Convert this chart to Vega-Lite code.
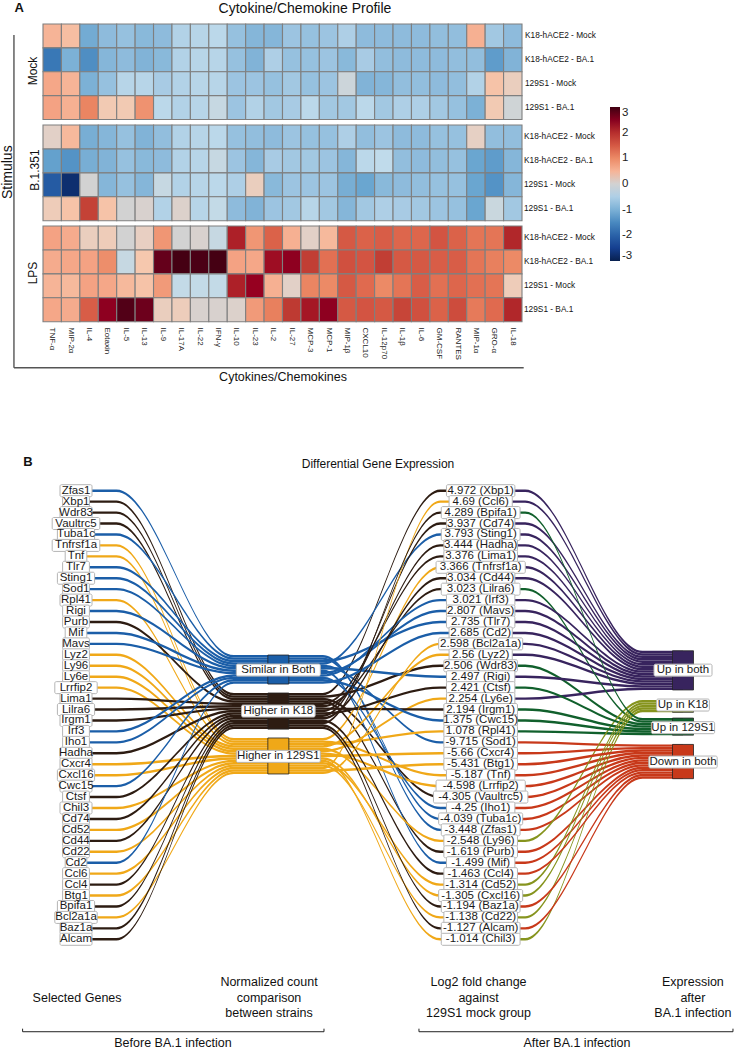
{"$schema":"https://vega.github.io/schema/vega-lite/v6.json","width":734,"height":1050,"padding":0,"autosize":{"type":"fit","contains":"padding"},"background":"white","config":{"view":{"stroke":null},"font":"Liberation Sans","axis":{"grid":false,"domain":false,"ticks":false,"title":null}},
"datasets":{
"heat":[
{"stimulus":"Mock","sample":"K18-hACE2 - Mock","cytokine":["TNF-α","MIP-2α","IL-4","Eotaxin","IL-5","IL-13","IL-9","IL-17A","IL-22","IFN-γ","IL-10","IL-23","IL-2","IL-27","MCP-3","MCP-1","MIP-1β","CXCL10","IL-12p70","IL-1β","IL-6","GM-CSF","RANTES","MIP-1α","GRO-α","IL-18"],"value":[0.5,0.4,-1.1,-0.8,-0.7,-0.85,-0.8,-0.45,-0.4,-0.35,-0.7,-0.9,-0.9,-0.65,-0.7,-0.65,-0.5,-0.8,-0.8,-0.8,-0.8,-0.75,-0.75,0.55,-0.6,-0.8]},
{"stimulus":"Mock","sample":"K18-hACE2 - BA.1","cytokine":["TNF-α","MIP-2α","IL-4","Eotaxin","IL-5","IL-13","IL-9","IL-17A","IL-22","IFN-γ","IL-10","IL-23","IL-2","IL-27","MCP-3","MCP-1","MIP-1β","CXCL10","IL-12p70","IL-1β","IL-6","GM-CSF","RANTES","MIP-1α","GRO-α","IL-18"],"value":[-1.7,-1.0,-1.45,-0.9,-0.8,-0.95,-0.85,-0.45,-0.4,-0.4,-0.7,-0.95,-0.5,-0.7,-0.7,-0.65,-0.85,-0.55,-0.75,-0.8,-0.8,-0.8,-0.75,-0.75,-1.3,-0.95]},
{"stimulus":"Mock","sample":"129S1 - Mock","cytokine":["TNF-α","MIP-2α","IL-4","Eotaxin","IL-5","IL-13","IL-9","IL-17A","IL-22","IFN-γ","IL-10","IL-23","IL-2","IL-27","MCP-3","MCP-1","MIP-1β","CXCL10","IL-12p70","IL-1β","IL-6","GM-CSF","RANTES","MIP-1α","GRO-α","IL-18"],"value":[0.65,0.5,-1.0,-0.7,-0.4,-0.4,-0.55,-0.45,-0.4,-0.4,-0.65,-0.65,-0.7,-0.6,-0.7,-0.65,-0.1,-0.95,-0.9,-0.75,-0.75,-0.8,-0.75,-0.45,0.35,0.15]},
{"stimulus":"Mock","sample":"129S1 - BA.1","cytokine":["TNF-α","MIP-2α","IL-4","Eotaxin","IL-5","IL-13","IL-9","IL-17A","IL-22","IFN-γ","IL-10","IL-23","IL-2","IL-27","MCP-3","MCP-1","MIP-1β","CXCL10","IL-12p70","IL-1β","IL-6","GM-CSF","RANTES","MIP-1α","GRO-α","IL-18"],"value":[0.7,0.55,1.05,0.25,0.25,0.9,-0.35,-0.45,-0.4,-0.2,-0.65,-0.45,-0.6,-0.55,-0.35,-0.6,-0.6,-0.35,-0.6,-0.5,-0.5,-0.6,-0.7,-1.0,0.25,-0.05]},
{"stimulus":"B.1.351","sample":"K18-hACE2 - Mock","cytokine":["TNF-α","MIP-2α","IL-4","Eotaxin","IL-5","IL-13","IL-9","IL-17A","IL-22","IFN-γ","IL-10","IL-23","IL-2","IL-27","MCP-3","MCP-1","MIP-1β","CXCL10","IL-12p70","IL-1β","IL-6","GM-CSF","RANTES","MIP-1α","GRO-α","IL-18"],"value":[0.08,0.45,-1.05,-0.9,-0.7,-0.95,-0.75,-0.45,-0.4,-0.35,-0.7,-0.75,-0.8,-0.65,-0.7,-0.7,-0.5,-0.75,-0.65,-0.8,-0.8,-0.7,-0.7,0.1,-0.75,-0.75]},
{"stimulus":"B.1.351","sample":"K18-hACE2 - BA.1","cytokine":["TNF-α","MIP-2α","IL-4","Eotaxin","IL-5","IL-13","IL-9","IL-17A","IL-22","IFN-γ","IL-10","IL-23","IL-2","IL-27","MCP-3","MCP-1","MIP-1β","CXCL10","IL-12p70","IL-1β","IL-6","GM-CSF","RANTES","MIP-1α","GRO-α","IL-18"],"value":[-1.25,-1.4,-1.05,-0.95,-0.7,-0.85,-0.8,-0.45,-0.4,-0.2,-0.65,-0.9,-0.55,-0.6,-0.6,-0.65,-0.9,-0.35,-0.3,-0.75,-0.8,-0.75,-0.7,-1.2,-1.3,-0.9]},
{"stimulus":"B.1.351","sample":"129S1 - Mock","cytokine":["TNF-α","MIP-2α","IL-4","Eotaxin","IL-5","IL-13","IL-9","IL-17A","IL-22","IFN-γ","IL-10","IL-23","IL-2","IL-27","MCP-3","MCP-1","MIP-1β","CXCL10","IL-12p70","IL-1β","IL-6","GM-CSF","RANTES","MIP-1α","GRO-α","IL-18"],"value":[-2.1,-2.75,0,-0.9,-0.7,-0.9,-0.2,-0.45,-0.4,-0.35,-0.5,0.15,-0.85,-0.65,-0.65,-0.65,-1.05,-1.2,-0.85,-0.8,-0.75,-0.7,-0.7,-1.2,-1.4,-0.9]},
{"stimulus":"B.1.351","sample":"129S1 - BA.1","cytokine":["TNF-α","MIP-2α","IL-4","Eotaxin","IL-5","IL-13","IL-9","IL-17A","IL-22","IFN-γ","IL-10","IL-23","IL-2","IL-27","MCP-3","MCP-1","MIP-1β","CXCL10","IL-12p70","IL-1β","IL-6","GM-CSF","RANTES","MIP-1α","GRO-α","IL-18"],"value":[0.2,0.35,1.8,0.35,0,0.03,-0.45,0.05,-0.4,-0.25,-0.8,-0.95,-0.65,-0.6,-0.4,-0.6,-0.9,-0.6,-0.5,-0.55,-0.6,-0.65,-0.7,-1.2,-0.15,-0.6]},
{"stimulus":"LPS","sample":"K18-hACE2 - Mock","cytokine":["TNF-α","MIP-2α","IL-4","Eotaxin","IL-5","IL-13","IL-9","IL-17A","IL-22","IFN-γ","IL-10","IL-23","IL-2","IL-27","MCP-3","MCP-1","MIP-1β","CXCL10","IL-12p70","IL-1β","IL-6","GM-CSF","RANTES","MIP-1α","GRO-α","IL-18"],"value":[0.7,0.6,0.15,0.2,0,0.12,0.85,0,0.03,-0.2,2.1,0.85,1.4,0.55,0.08,0.45,1.5,1.4,1.45,1.35,1.35,1.55,1.4,1.2,1.2,2.05]},
{"stimulus":"LPS","sample":"K18-hACE2 - BA.1","cytokine":["TNF-α","MIP-2α","IL-4","Eotaxin","IL-5","IL-13","IL-9","IL-17A","IL-22","IFN-γ","IL-10","IL-23","IL-2","IL-27","MCP-3","MCP-1","MIP-1β","CXCL10","IL-12p70","IL-1β","IL-6","GM-CSF","RANTES","MIP-1α","GRO-α","IL-18"],"value":[0.6,0.65,0.7,0.95,-0.2,0.3,2.7,2.95,2.9,2.95,0.7,0.65,2.3,2.45,1.85,1.25,1.6,1.55,1.85,1.5,1.5,1.45,1.45,1.2,1.1,1.0]},
{"stimulus":"LPS","sample":"129S1 - Mock","cytokine":["TNF-α","MIP-2α","IL-4","Eotaxin","IL-5","IL-13","IL-9","IL-17A","IL-22","IFN-γ","IL-10","IL-23","IL-2","IL-27","MCP-3","MCP-1","MIP-1β","CXCL10","IL-12p70","IL-1β","IL-6","GM-CSF","RANTES","MIP-1α","GRO-α","IL-18"],"value":[0.5,0.45,0.7,0.65,0.45,0.35,0.8,-0.25,-0.25,-0.25,2.1,2.4,0.55,0.08,1.05,1.0,1.5,1.3,1.0,1.2,1.45,1.25,1.35,1.25,1.2,0.2]},
{"stimulus":"LPS","sample":"129S1 - BA.1","cytokine":["TNF-α","MIP-2α","IL-4","Eotaxin","IL-5","IL-13","IL-9","IL-17A","IL-22","IFN-γ","IL-10","IL-23","IL-2","IL-27","MCP-3","MCP-1","MIP-1β","CXCL10","IL-12p70","IL-1β","IL-6","GM-CSF","RANTES","MIP-1α","GRO-α","IL-18"],"value":[0.65,0.6,1.45,2.45,2.85,2.65,0.15,0.18,0.03,0.03,0.05,0.8,1.1,1.9,2.2,2.45,1.5,1.55,1.5,1.75,1.6,1.4,1.65,1.15,1.3,2.05]}
],
"flows":[
{"id":"Zfas1A","flow":"Similar in Both","axis":[1,1.2,1.78,2.22,2.8,3],"rank":[1,1,16.13,16.13,32,32]},
{"id":"Xbp1A","flow":"Higher in K18","axis":[1,1.2,1.78,2.22,2.8,3],"rank":[2,2,19.6,19.6,1,1]},
{"id":"Wdr83A","flow":"Higher in K18","axis":[1,1.2,1.78,2.22,2.8,3],"rank":[3,3,19.82,19.82,17,17]},
{"id":"Vaultrc5A","flow":"Higher in K18","axis":[1,1.2,1.78,2.22,2.8,3],"rank":[4,4,20.04,20.04,29,29]},
{"id":"Tuba1cA","flow":"Similar in Both","axis":[1,1.2,1.78,2.22,2.8,3],"rank":[5,5,16.35,16.35,31,31]},
{"id":"Tnfrsf1aA","flow":"Higher in 129S1","axis":[1,1.2,1.78,2.22,2.8,3],"rank":[6,6,23.71,23.71,8,8]},
{"id":"TnfA","flow":"Higher in 129S1","axis":[1,1.2,1.78,2.22,2.8,3],"rank":[7,7,23.93,23.93,27,27]},
{"id":"Tlr7A","flow":"Similar in Both","axis":[1,1.2,1.78,2.22,2.8,3],"rank":[8,8,16.57,16.57,13,13]},
{"id":"Sting1A","flow":"Similar in Both","axis":[1,1.2,1.78,2.22,2.8,3],"rank":[9,9,16.79,16.79,5,5]},
{"id":"Sod1A","flow":"Similar in Both","axis":[1,1.2,1.78,2.22,2.8,3],"rank":[10,10,17.01,17.01,24,24]},
{"id":"Rpl41A","flow":"Higher in 129S1","axis":[1,1.2,1.78,2.22,2.8,3],"rank":[11,11,24.15,24.15,23,23]},
{"id":"RigiA","flow":"Similar in Both","axis":[1,1.2,1.78,2.22,2.8,3],"rank":[12,12,17.23,17.23,18,18]},
{"id":"PurbA","flow":"Higher in K18","axis":[1,1.2,1.78,2.22,2.8,3],"rank":[13,13,20.26,20.26,34,34]},
{"id":"MifA","flow":"Similar in Both","axis":[1,1.2,1.78,2.22,2.8,3],"rank":[14,14,17.45,17.45,35,35]},
{"id":"MavsA","flow":"Similar in Both","axis":[1,1.2,1.78,2.22,2.8,3],"rank":[15,15,17.67,17.67,12,12]},
{"id":"Lyz2A","flow":"Higher in 129S1","axis":[1,1.2,1.78,2.22,2.8,3],"rank":[16,16,24.37,24.37,16,16]},
{"id":"Ly96A","flow":"Higher in 129S1","axis":[1,1.2,1.78,2.22,2.8,3],"rank":[17,17,24.59,24.59,33,33]},
{"id":"Ly6eA","flow":"Higher in 129S1","axis":[1,1.2,1.78,2.22,2.8,3],"rank":[18,18,24.81,24.81,20,20]},
{"id":"Lrrfip2A","flow":"Higher in 129S1","axis":[1,1.2,1.78,2.22,2.8,3],"rank":[19,19,25.03,25.03,28,28]},
{"id":"Lima1A","flow":"Higher in K18","axis":[1,1.2,1.78,2.22,2.8,3],"rank":[20,20,20.48,20.48,7,7]},
{"id":"Lilra6A","flow":"Higher in K18","axis":[1,1.2,1.78,2.22,2.8,3],"rank":[21,21,20.7,20.7,10,10]},
{"id":"Irgm1A","flow":"Higher in K18","axis":[1,1.2,1.78,2.22,2.8,3],"rank":[22,22,20.92,20.92,21,21]},
{"id":"Irf3A","flow":"Similar in Both","axis":[1,1.2,1.78,2.22,2.8,3],"rank":[23,23,17.89,17.89,11,11]},
{"id":"Iho1A","flow":"Similar in Both","axis":[1,1.2,1.78,2.22,2.8,3],"rank":[24,24,18.11,18.11,30,30]},
{"id":"HadhaA","flow":"Higher in K18","axis":[1,1.2,1.78,2.22,2.8,3],"rank":[25,25,21.14,21.14,6,6]},
{"id":"Cxcr4A","flow":"Higher in 129S1","axis":[1,1.2,1.78,2.22,2.8,3],"rank":[26,26,25.25,25.25,25,25]},
{"id":"Cxcl16A","flow":"Higher in 129S1","axis":[1,1.2,1.78,2.22,2.8,3],"rank":[27,27,25.47,25.47,38,38]},
{"id":"Cwc15A","flow":"Similar in Both","axis":[1,1.2,1.78,2.22,2.8,3],"rank":[28,28,18.32,18.32,22,22]},
{"id":"CtsfA","flow":"Higher in K18","axis":[1,1.2,1.78,2.22,2.8,3],"rank":[29,29,21.36,21.36,19,19]},
{"id":"Chil3A","flow":"Higher in 129S1","axis":[1,1.2,1.78,2.22,2.8,3],"rank":[30,30,25.69,25.69,42,42]},
{"id":"Cd74A","flow":"Higher in K18","axis":[1,1.2,1.78,2.22,2.8,3],"rank":[31,31,21.58,21.58,4,4]},
{"id":"Cd52A","flow":"Higher in 129S1","axis":[1,1.2,1.78,2.22,2.8,3],"rank":[32,32,25.91,25.91,37,37]},
{"id":"Cd44A","flow":"Higher in K18","axis":[1,1.2,1.78,2.22,2.8,3],"rank":[33,33,21.8,21.8,9,9]},
{"id":"Cd22A","flow":"Higher in 129S1","axis":[1,1.2,1.78,2.22,2.8,3],"rank":[34,34,26.13,26.13,40,40]},
{"id":"Cd2A","flow":"Similar in Both","axis":[1,1.2,1.78,2.22,2.8,3],"rank":[35,35,18.54,18.54,14,14]},
{"id":"Ccl6A","flow":"Higher in 129S1","axis":[1,1.2,1.78,2.22,2.8,3],"rank":[36,36,26.35,26.35,2,2]},
{"id":"Ccl4A","flow":"Higher in K18","axis":[1,1.2,1.78,2.22,2.8,3],"rank":[37,37,22.02,22.02,36,36]},
{"id":"Btg1A","flow":"Higher in 129S1","axis":[1,1.2,1.78,2.22,2.8,3],"rank":[38,38,26.57,26.57,26,26]},
{"id":"Bpifa1A","flow":"Higher in K18","axis":[1,1.2,1.78,2.22,2.8,3],"rank":[39,39,22.24,22.24,3,3]},
{"id":"Bcl2a1aA","flow":"Higher in 129S1","axis":[1,1.2,1.78,2.22,2.8,3],"rank":[40,40,26.79,26.79,15,15]},
{"id":"Baz1aA","flow":"Higher in K18","axis":[1,1.2,1.78,2.22,2.8,3],"rank":[41,41,22.46,22.46,39,39]},
{"id":"AlcamA","flow":"Higher in K18","axis":[1,1.2,1.78,2.22,2.8,3],"rank":[42,42,22.68,22.68,41,41]},
{"id":"Zfas1B","flow":"Down in both","axis":[3,3.22,3.8,4],"rank":[32,32,26.1,26.1]},
{"id":"Xbp1B","flow":"Up in both","axis":[3,3.22,3.8,4],"rank":[1,1,15.74,15.74]},
{"id":"Wdr83B","flow":"Up in 129S1","axis":[3,3.22,3.8,4],"rank":[17,17,22.34,22.34]},
{"id":"Vaultrc5B","flow":"Down in both","axis":[3,3.22,3.8,4],"rank":[29,29,25.42,25.42]},
{"id":"Tuba1cB","flow":"Down in both","axis":[3,3.22,3.8,4],"rank":[31,31,25.87,25.87]},
{"id":"Tnfrsf1aB","flow":"Up in both","axis":[3,3.22,3.8,4],"rank":[8,8,17.09,17.09]},
{"id":"TnfB","flow":"Down in both","axis":[3,3.22,3.8,4],"rank":[27,27,24.97,24.97]},
{"id":"Tlr7B","flow":"Up in both","axis":[3,3.22,3.8,4],"rank":[13,13,17.98,17.98]},
{"id":"Sting1B","flow":"Up in both","axis":[3,3.22,3.8,4],"rank":[5,5,16.41,16.41]},
{"id":"Sod1B","flow":"Down in both","axis":[3,3.22,3.8,4],"rank":[24,24,24.3,24.3]},
{"id":"Rpl41B","flow":"Up in 129S1","axis":[3,3.22,3.8,4],"rank":[23,23,23.23,23.23]},
{"id":"RigiB","flow":"Up in both","axis":[3,3.22,3.8,4],"rank":[18,18,18.88,18.88]},
{"id":"PurbB","flow":"Down in both","axis":[3,3.22,3.8,4],"rank":[34,34,26.32,26.32]},
{"id":"MifB","flow":"Down in both","axis":[3,3.22,3.8,4],"rank":[35,35,26.54,26.54]},
{"id":"MavsB","flow":"Up in both","axis":[3,3.22,3.8,4],"rank":[12,12,17.76,17.76]},
{"id":"Lyz2B","flow":"Up in both","axis":[3,3.22,3.8,4],"rank":[16,16,18.65,18.65]},
{"id":"Ly96B","flow":"Up in K18","axis":[3,3.22,3.8,4],"rank":[33,33,20.24,20.24]},
{"id":"Ly6eB","flow":"Up in both","axis":[3,3.22,3.8,4],"rank":[20,20,19.1,19.1]},
{"id":"Lrrfip2B","flow":"Down in both","axis":[3,3.22,3.8,4],"rank":[28,28,25.2,25.2]},
{"id":"Lima1B","flow":"Up in both","axis":[3,3.22,3.8,4],"rank":[7,7,16.86,16.86]},
{"id":"Lilra6B","flow":"Up in 129S1","axis":[3,3.22,3.8,4],"rank":[10,10,22.11,22.11]},
{"id":"Irgm1B","flow":"Up in 129S1","axis":[3,3.22,3.8,4],"rank":[21,21,22.79,22.79]},
{"id":"Irf3B","flow":"Up in both","axis":[3,3.22,3.8,4],"rank":[11,11,17.53,17.53]},
{"id":"Iho1B","flow":"Down in both","axis":[3,3.22,3.8,4],"rank":[30,30,25.65,25.65]},
{"id":"HadhaB","flow":"Up in both","axis":[3,3.22,3.8,4],"rank":[6,6,16.64,16.64]},
{"id":"Cxcr4B","flow":"Down in both","axis":[3,3.22,3.8,4],"rank":[25,25,24.53,24.53]},
{"id":"Cxcl16B","flow":"Up in K18","axis":[3,3.22,3.8,4],"rank":[38,38,20.69,20.69]},
{"id":"Cwc15B","flow":"Up in 129S1","axis":[3,3.22,3.8,4],"rank":[22,22,23.01,23.01]},
{"id":"CtsfB","flow":"Up in 129S1","axis":[3,3.22,3.8,4],"rank":[19,19,22.56,22.56]},
{"id":"Chil3B","flow":"Up in K18","axis":[3,3.22,3.8,4],"rank":[42,42,21.14,21.14]},
{"id":"Cd74B","flow":"Up in both","axis":[3,3.22,3.8,4],"rank":[4,4,16.19,16.19]},
{"id":"Cd52B","flow":"Up in K18","axis":[3,3.22,3.8,4],"rank":[37,37,20.46,20.46]},
{"id":"Cd44B","flow":"Up in both","axis":[3,3.22,3.8,4],"rank":[9,9,17.31,17.31]},
{"id":"Cd22B","flow":"Up in K18","axis":[3,3.22,3.8,4],"rank":[40,40,20.91,20.91]},
{"id":"Cd2B","flow":"Up in both","axis":[3,3.22,3.8,4],"rank":[14,14,18.21,18.21]},
{"id":"Ccl6B","flow":"Up in both","axis":[3,3.22,3.8,4],"rank":[2,2,15.97,15.97]},
{"id":"Ccl4B","flow":"Down in both","axis":[3,3.22,3.8,4],"rank":[36,36,26.77,26.77]},
{"id":"Btg1B","flow":"Down in both","axis":[3,3.22,3.8,4],"rank":[26,26,24.75,24.75]},
{"id":"Bpifa1B","flow":"Up in 129S1","axis":[3,3.22,3.8,4],"rank":[3,3,21.89,21.89]},
{"id":"Bcl2a1aB","flow":"Up in both","axis":[3,3.22,3.8,4],"rank":[15,15,18.43,18.43]},
{"id":"Baz1aB","flow":"Down in both","axis":[3,3.22,3.8,4],"rank":[39,39,26.99,26.99]},
{"id":"AlcamB","flow":"Down in both","axis":[3,3.22,3.8,4],"rank":[41,41,27.21,27.21]}
],
"strata":[
{"flow":"Similar in Both","axis":2,"rank":16.02,"rank2":18.67},
{"flow":"Higher in K18","axis":2,"rank":19.49,"rank2":22.79},
{"flow":"Higher in 129S1","axis":2,"rank":23.6,"rank2":26.89},
{"flow":"Up in both","axis":4,"rank":15.63,"rank2":19.21},
{"flow":"Up in K18","axis":4,"rank":20.13,"rank2":21.25},
{"flow":"Up in 129S1","axis":4,"rank":21.78,"rank2":23.34},
{"flow":"Down in both","axis":4,"rank":24.19,"rank2":27.32}
],
"labels":[
{"label":"Zfas1","axis":1,"rank":1},{"label":"Xbp1","axis":1,"rank":2},{"label":"Wdr83","axis":1,"rank":3},{"label":"Vaultrc5","axis":1,"rank":4},{"label":"Tuba1c","axis":1,"rank":5},{"label":"Tnfrsf1a","axis":1,"rank":6},{"label":"Tnf","axis":1,"rank":7},{"label":"Tlr7","axis":1,"rank":8},{"label":"Sting1","axis":1,"rank":9},{"label":"Sod1","axis":1,"rank":10},{"label":"Rpl41","axis":1,"rank":11},{"label":"Rigi","axis":1,"rank":12},{"label":"Purb","axis":1,"rank":13},{"label":"Mif","axis":1,"rank":14},{"label":"Mavs","axis":1,"rank":15},{"label":"Lyz2","axis":1,"rank":16},{"label":"Ly96","axis":1,"rank":17},{"label":"Ly6e","axis":1,"rank":18},{"label":"Lrrfip2","axis":1,"rank":19},{"label":"Lima1","axis":1,"rank":20},{"label":"Lilra6","axis":1,"rank":21},{"label":"Irgm1","axis":1,"rank":22},{"label":"Irf3","axis":1,"rank":23},{"label":"Iho1","axis":1,"rank":24},{"label":"Hadha","axis":1,"rank":25},{"label":"Cxcr4","axis":1,"rank":26},{"label":"Cxcl16","axis":1,"rank":27},{"label":"Cwc15","axis":1,"rank":28},{"label":"Ctsf","axis":1,"rank":29},{"label":"Chil3","axis":1,"rank":30},{"label":"Cd74","axis":1,"rank":31},{"label":"Cd52","axis":1,"rank":32},{"label":"Cd44","axis":1,"rank":33},{"label":"Cd22","axis":1,"rank":34},{"label":"Cd2","axis":1,"rank":35},{"label":"Ccl6","axis":1,"rank":36},{"label":"Ccl4","axis":1,"rank":37},{"label":"Btg1","axis":1,"rank":38},{"label":"Bpifa1","axis":1,"rank":39},{"label":"Bcl2a1a","axis":1,"rank":40},{"label":"Baz1a","axis":1,"rank":41},{"label":"Alcam","axis":1,"rank":42},
{"label":"4.972 (Xbp1)","axis":3,"rank":1},{"label":"4.69 (Ccl6)","axis":3,"rank":2},{"label":"4.289 (Bpifa1)","axis":3,"rank":3},{"label":"3.937 (Cd74)","axis":3,"rank":4},{"label":"3.793 (Sting1)","axis":3,"rank":5},{"label":"3.444 (Hadha)","axis":3,"rank":6},{"label":"3.376 (Lima1)","axis":3,"rank":7},{"label":"3.366 (Tnfrsf1a)","axis":3,"rank":8},{"label":"3.034 (Cd44)","axis":3,"rank":9},{"label":"3.023 (Lilra6)","axis":3,"rank":10},{"label":"3.021 (Irf3)","axis":3,"rank":11},{"label":"2.807 (Mavs)","axis":3,"rank":12},{"label":"2.735 (Tlr7)","axis":3,"rank":13},{"label":"2.685 (Cd2)","axis":3,"rank":14},{"label":"2.598 (Bcl2a1a)","axis":3,"rank":15},{"label":"2.56 (Lyz2)","axis":3,"rank":16},{"label":"2.506 (Wdr83)","axis":3,"rank":17},{"label":"2.497 (Rigi)","axis":3,"rank":18},{"label":"2.421 (Ctsf)","axis":3,"rank":19},{"label":"2.254 (Ly6e)","axis":3,"rank":20},{"label":"2.194 (Irgm1)","axis":3,"rank":21},{"label":"1.375 (Cwc15)","axis":3,"rank":22},{"label":"1.078 (Rpl41)","axis":3,"rank":23},{"label":"-9.715 (Sod1)","axis":3,"rank":24},{"label":"-5.66 (Cxcr4)","axis":3,"rank":25},{"label":"-5.431 (Btg1)","axis":3,"rank":26},{"label":"-5.187 (Tnf)","axis":3,"rank":27},{"label":"-4.598 (Lrrfip2)","axis":3,"rank":28},{"label":"-4.305 (Vaultrc5)","axis":3,"rank":29},{"label":"-4.25 (Iho1)","axis":3,"rank":30},{"label":"-4.039 (Tuba1c)","axis":3,"rank":31},{"label":"-3.448 (Zfas1)","axis":3,"rank":32},{"label":"-2.548 (Ly96)","axis":3,"rank":33},{"label":"-1.619 (Purb)","axis":3,"rank":34},{"label":"-1.499 (Mif)","axis":3,"rank":35},{"label":"-1.463 (Ccl4)","axis":3,"rank":36},{"label":"-1.314 (Cd52)","axis":3,"rank":37},{"label":"-1.305 (Cxcl16)","axis":3,"rank":38},{"label":"-1.194 (Baz1a)","axis":3,"rank":39},{"label":"-1.138 (Cd22)","axis":3,"rank":40},{"label":"-1.127 (Alcam)","axis":3,"rank":41},{"label":"-1.014 (Chil3)","axis":3,"rank":42},
{"label":"Similar in Both","axis":2,"rank":17.39},{"label":"Higher in K18","axis":2,"rank":21.14},{"label":"Higher in 129S1","axis":2,"rank":25.28},{"label":"Up in both","axis":4,"rank":17.4},{"label":"Up in K18","axis":4,"rank":20.59},{"label":"Up in 129S1","axis":4,"rank":22.66},{"label":"Down in both","axis":4,"rank":25.8}
]
},
"resolve":{"scale":{"x":"independent","y":"independent"},"axis":{"x":"independent","y":"independent"}},
"layer":[
{"data":{"name":"heat"},"transform":[{"flatten":["cytokine","value"]},{"filter":"datum.stimulus==='Mock'"}],
"mark":{"type":"rect","stroke":"#7f7f7f","strokeWidth":1.1},
"encoding":{"x":{"field":"cytokine","type":"nominal","axis":null,"scale":{"domain":["TNF-α","MIP-2α","IL-4","Eotaxin","IL-5","IL-13","IL-9","IL-17A","IL-22","IFN-γ","IL-10","IL-23","IL-2","IL-27","MCP-3","MCP-1","MIP-1β","CXCL10","IL-12p70","IL-1β","IL-6","GM-CSF","RANTES","MIP-1α","GRO-α","IL-18"],"range":[43,522],"paddingInner":0,"paddingOuter":0}},
"y":{"field":"sample","type":"nominal","scale":{"domain":["K18-hACE2 - Mock","K18-hACE2 - BA.1","129S1 - Mock","129S1 - BA.1"],"range":[24,119.5],"paddingInner":0,"paddingOuter":0},"axis":{"orient":"right","offset":-209.5,"labelPadding":0,"labelFontSize":8.3,"labelColor":"#111"}},
"color":{"field":"value","type":"quantitative","scale":{"domain":[-3,-2.5,-2,-1.6,-1.2,-0.9,-0.7,-0.5,-0.3,-0.1,0,0.1,0.3,0.5,0.7,1,1.3,1.6,1.9,2.1,2.4,2.7,3],"range":["#08204f","#153f90","#2a62a8","#3f80bb","#6aa6d0","#85b6d9","#96c1df","#aecfe6","#c0dbeb","#ccd5da","#d2d2d2","#e6d0c4","#f6c8ae","#f6b497","#f4a283","#ec8a66","#e06a4f","#d0503f","#be3a32","#ad2028","#960020","#65001b","#3f0011"]},"legend":{"orient":"none","legendX":610,"legendY":107,"gradientLength":154,"gradientThickness":10,"values":[3,2,1,0,-1,-2,-3],"title":null,"labelFontSize":11.5,"labelExpr":"''+datum.value","labelColor":"#222"}}}},
{"data":{"name":"heat"},"transform":[{"flatten":["cytokine","value"]},{"filter":"datum.stimulus==='B.1.351'"}],
"mark":{"type":"rect","stroke":"#7f7f7f","strokeWidth":1.1},
"encoding":{"x":{"field":"cytokine","type":"nominal","axis":null,"scale":{"domain":["TNF-α","MIP-2α","IL-4","Eotaxin","IL-5","IL-13","IL-9","IL-17A","IL-22","IFN-γ","IL-10","IL-23","IL-2","IL-27","MCP-3","MCP-1","MIP-1β","CXCL10","IL-12p70","IL-1β","IL-6","GM-CSF","RANTES","MIP-1α","GRO-α","IL-18"],"range":[43,522],"paddingInner":0,"paddingOuter":0}},
"y":{"field":"sample","type":"nominal","scale":{"domain":["K18-hACE2 - Mock","K18-hACE2 - BA.1","129S1 - Mock","129S1 - BA.1"],"range":[125,220.7],"paddingInner":0,"paddingOuter":0},"axis":{"orient":"right","offset":-210.5,"labelPadding":0,"labelFontSize":8.3,"labelColor":"#111"}},
"color":{"field":"value","type":"quantitative","legend":null}}},
{"data":{"name":"heat"},"transform":[{"flatten":["cytokine","value"]},{"filter":"datum.stimulus==='LPS'"}],
"mark":{"type":"rect","stroke":"#7f7f7f","strokeWidth":1.1},
"encoding":{"x":{"field":"cytokine","type":"nominal","scale":{"domain":["TNF-α","MIP-2α","IL-4","Eotaxin","IL-5","IL-13","IL-9","IL-17A","IL-22","IFN-γ","IL-10","IL-23","IL-2","IL-27","MCP-3","MCP-1","MIP-1β","CXCL10","IL-12p70","IL-1β","IL-6","GM-CSF","RANTES","MIP-1α","GRO-α","IL-18"],"range":[43,522],"paddingInner":0,"paddingOuter":0},"axis":{"orient":"bottom","offset":-728,"labelAngle":90,"labelAlign":"left","labelBaseline":"middle","labelPadding":5,"labelFontSize":8,"labelColor":"#222","labelOverlap":false}},
"y":{"field":"sample","type":"nominal","scale":{"domain":["K18-hACE2 - Mock","K18-hACE2 - BA.1","129S1 - Mock","129S1 - BA.1"],"range":[226,321.7],"paddingInner":0,"paddingOuter":0},"axis":{"orient":"right","offset":-210.5,"labelPadding":0,"labelFontSize":8.3,"labelColor":"#111"}},
"color":{"field":"value","type":"quantitative","legend":null}}},
{"encoding":{"x":{"field":"axis","type":"quantitative","axis":null,"scale":{"domain":[1,4],"range":[76,683],"nice":false,"zero":false}},"y":{"field":"rank","type":"quantitative","axis":null,"scale":{"domain":[1,42],"range":[490.7,939.3],"nice":false,"zero":false}}},
"layer":[
{"data":{"name":"flows"},"transform":[{"flatten":["axis","rank"]}],"mark":{"type":"area","interpolate":"monotone","yOffset":-1.2,"y2Offset":1.2},"encoding":{"y2":{"field":"rank"},"detail":{"field":"id"},"fill":{"field":"flow","type":"nominal","legend":null,"scale":{"domain":["Similar in Both","Higher in K18","Higher in 129S1","Up in both","Up in K18","Up in 129S1","Down in both"],"range":["#1b5ea8","#2d1c12","#f0a818","#38245e","#86941e","#11602c","#c8391a"]}}}},
{"data":{"name":"strata"},"mark":{"type":"rect","xOffset":-10.5,"x2Offset":10.5,"stroke":"#222","strokeWidth":0.8},"encoding":{"x2":{"field":"axis"},"y2":{"field":"rank2"},"fill":{"field":"flow","type":"nominal","legend":null}}},
{"data":{"name":"labels"},"mark":{"type":"rect","fill":"white","stroke":"#b5b5b5","strokeWidth":1,"cornerRadius":1.5,"xOffset":{"expr":"-(2.6*length(datum.label)+3)"},"x2Offset":{"expr":"2.6*length(datum.label)+3"},"yOffset":-6,"y2Offset":6},"encoding":{"x2":{"field":"axis"},"y2":{"field":"rank"}}},
{"data":{"name":"labels"},"mark":{"type":"text","fontSize":11.5,"color":"#1a1a1a","align":"center","baseline":"middle"},"encoding":{"text":{"field":"label"}}}
]},
{"encoding":{"x":{"field":"px","type":"quantitative","axis":null,"scale":{"domain":[0,100],"range":[0,734],"nice":false,"zero":false}},"y":{"field":"py","type":"quantitative","axis":null,"scale":{"domain":[0,100],"range":[0,1050],"nice":false,"zero":false}}},
"layer":[
{"data":{"values":[{"px":1.9,"py":3.33,"px2":1.9,"py2":35.03},{"px":1.9,"py":35.03,"px2":71.35,"py2":35.03}]},"mark":{"type":"rule","stroke":"#555","strokeWidth":1.4},"encoding":{"x2":{"field":"px2"},"y2":{"field":"py2"}}},
{"data":{"values":[{"px":3.08,"py":98.26,"px2":44.14,"py2":98.26},{"px":3.08,"py":97.97,"px2":3.08,"py2":98.26},{"px":44.14,"py":97.97,"px2":44.14,"py2":98.26},{"px":57.08,"py":98.26,"px2":99.86,"py2":98.26},{"px":57.08,"py":97.97,"px2":57.08,"py2":98.26},{"px":99.86,"py":97.97,"px2":99.86,"py2":98.26}]},"mark":{"type":"rule","stroke":"#222","strokeWidth":1},"encoding":{"x2":{"field":"px2"},"y2":{"field":"py2"}}},
{"data":{"values":[{"t":"A","px":2.6,"py":0.8},{"t":"B","px":3.8,"py":44}]},"mark":{"type":"text","fontSize":13,"fontWeight":"bold","color":"#111"},"encoding":{"text":{"field":"t"}}},
{"data":{"values":[{"t":"Cytokine/Chemokine Profile","px":41.55,"py":0.85}]},"mark":{"type":"text","fontSize":14,"color":"#111"},"encoding":{"text":{"field":"t"}}},
{"data":{"values":[{"t":"Differential Gene Expression","px":51.5,"py":44.2}]},"mark":{"type":"text","fontSize":12,"color":"#111"},"encoding":{"text":{"field":"t"}}},
{"data":{"values":[{"t":"Cytokines/Chemokines","px":38.56,"py":35.86},{"t":"Selected Genes","px":10.5,"py":95},{"t":"Normalized count","px":36.65,"py":93.52},{"t":"comparison","px":36.65,"py":95},{"t":"between strains","px":36.65,"py":96.45},{"t":"Log2 fold change","px":65.2,"py":93.52},{"t":"against","px":65.2,"py":95},{"t":"129S1 mock group","px":65.2,"py":96.45},{"t":"Expression","px":94.4,"py":93.52},{"t":"after","px":94.4,"py":95},{"t":"BA.1 infection","px":94.4,"py":96.45},{"t":"Before BA.1 infection","px":23.57,"py":99.33},{"t":"After BA.1 infection","px":78.6,"py":99.33}]},"mark":{"type":"text","fontSize":12.5,"color":"#111"},"encoding":{"text":{"field":"t"}}},
{"data":{"values":[{"t":"Stimulus","px":1.05,"py":16.4}]},"mark":{"type":"text","fontSize":14,"angle":270,"color":"#111"},"encoding":{"text":{"field":"t"}}},
{"data":{"values":[{"t":"Mock","px":4.5,"py":6.76},{"t":"B.1.351","px":4.77,"py":16.2},{"t":"LPS","px":4.5,"py":26}]},"mark":{"type":"text","fontSize":12,"angle":270,"color":"#111"},"encoding":{"text":{"field":"t"}}}
]}
]}
